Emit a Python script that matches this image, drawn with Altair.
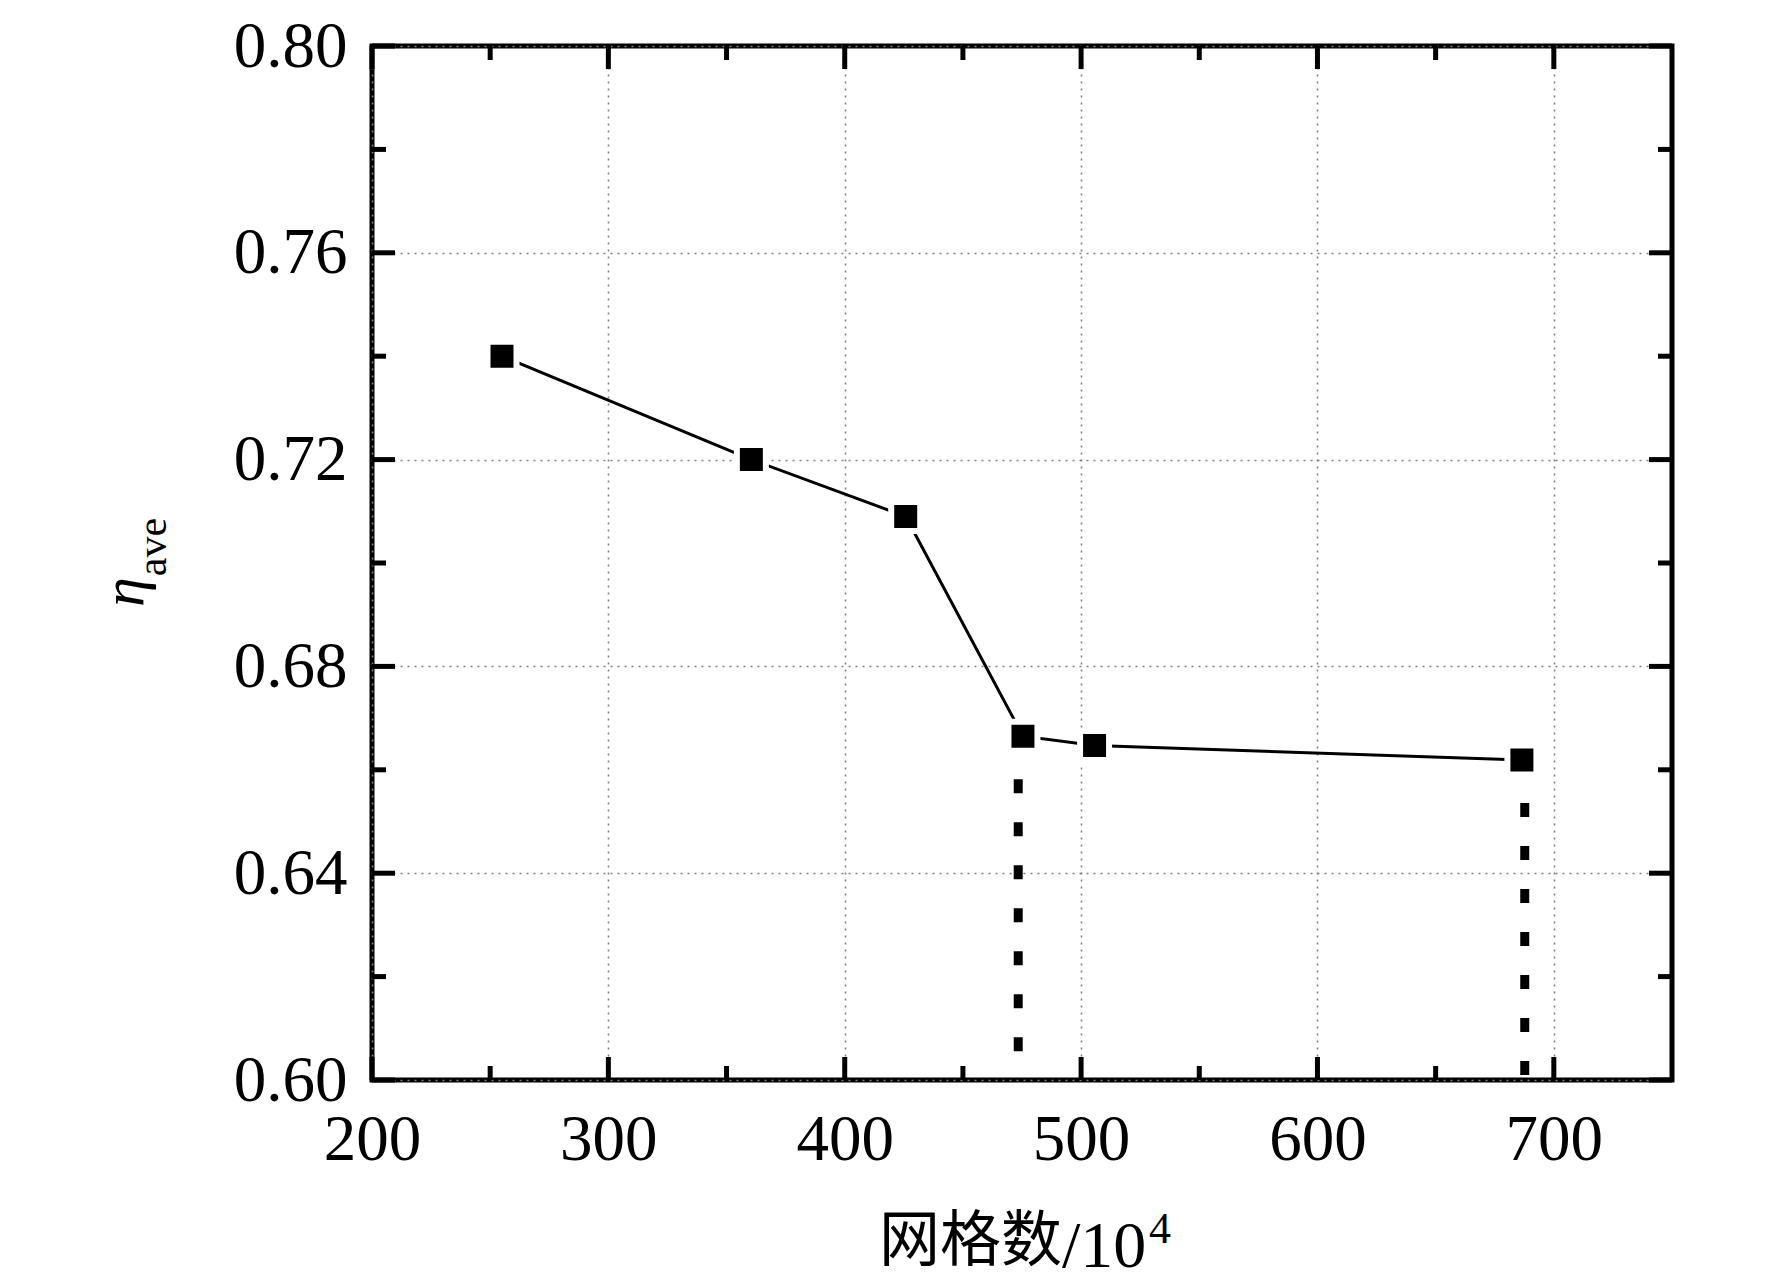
import altair as alt
import pandas as pd

# data
grid_counts = [255, 360.5, 425.8, 475.4, 505.7, 686.5]
eta_ave = [0.740, 0.720, 0.709, 0.6665, 0.6647, 0.6619]
drop_x = [473.4, 687.7]
drop_top = [0.6665, 0.6619]
x_major = [200, 300, 400, 500, 600, 700]
x_minor = [250, 350, 450, 550, 650]
y_major = [0.60, 0.64, 0.68, 0.72, 0.76, 0.80]
y_minor = [0.62, 0.66, 0.70, 0.74, 0.78]

W, H = 1300, 1034
TOP = 38
SERIF = "Liberation Serif"
xs = alt.Scale(domain=[200, 750], nice=False, zero=False)
ys = alt.Scale(domain=[0.60, 0.80], nice=False, zero=False)

df = pd.DataFrame({"x": grid_counts, "y": eta_ave})
drops = pd.DataFrame({"x": drop_x, "y": drop_top, "y0": [0.60] * len(drop_x)})

xaxis = alt.Axis(
    values=x_major, title=None, domain=False, ticks=False,
    labelFont=SERIF, labelFontSize=65, labelColor="black",
    labelPadding=28, grid=True, gridColor="#808080",
    gridDash=[2, 5], gridWidth=1.6, labelFlush=False)
yaxis = alt.Axis(
    values=y_major, format=".2f", title=None, domain=False, ticks=False,
    labelFont=SERIF, labelFontSize=65, labelColor="black",
    labelPadding=25, grid=True, gridColor="#808080",
    gridDash=[2, 5], gridWidth=1.6, labelFlush=False)

drop_lines = alt.Chart(drops).mark_rule(
    color="black", strokeWidth=9, strokeDash=[14, 29]
).encode(
    x=alt.X("x:Q", scale=xs, axis=xaxis),
    y=alt.Y("y:Q", scale=ys, axis=yaxis),
    y2="y0:Q",
)

line = alt.Chart(df).mark_line(color="black", strokeWidth=3).encode(
    x=alt.X("x:Q", scale=xs, axis=xaxis),
    y=alt.Y("y:Q", scale=ys, axis=yaxis),
)

points = alt.Chart(df).mark_point(
    shape="square", filled=True, fill="black", size=841,
    stroke="white", strokeWidth=6, opacity=1
).encode(
    x=alt.X("x:Q", scale=xs, axis=xaxis),
    y=alt.Y("y:Q", scale=ys, axis=yaxis),
)


def xticks(vals, length):
    d = pd.DataFrame({"v": vals})
    bottom = alt.Chart(d).mark_rule(color="black", strokeWidth=5).encode(
        x=alt.X("v:Q", scale=xs, axis=xaxis),
        y=alt.value(H), y2=alt.value(H - length))
    top = alt.Chart(d).mark_rule(color="black", strokeWidth=5).encode(
        x=alt.X("v:Q", scale=xs, axis=xaxis),
        y=alt.value(0), y2=alt.value(length))
    return [bottom, top]


def yticks(vals, length):
    d = pd.DataFrame({"v": vals})
    left = alt.Chart(d).mark_rule(color="black", strokeWidth=5).encode(
        y=alt.Y("v:Q", scale=ys, axis=yaxis),
        x=alt.value(0), x2=alt.value(length))
    right = alt.Chart(d).mark_rule(color="black", strokeWidth=5).encode(
        y=alt.Y("v:Q", scale=ys, axis=yaxis),
        x=alt.value(W), x2=alt.value(W - length))
    return [left, right]


ticks = xticks(x_major, 23) + xticks(x_minor, 14) + yticks(y_major, 23) + yticks(y_minor, 14)

dy = 31 - TOP  # keep outside texts at the same page position

eta = alt.Chart(pd.DataFrame({"t": ["η"]})).mark_text(
    font=SERIF, fontStyle="italic", fontSize=60, angle=270,
    align="center", baseline="alphabetic", color="black"
).encode(text="t:N", x=alt.value(-229), y=alt.value(553 + dy))

ave = alt.Chart(pd.DataFrame({"t": ["ave"]})).mark_text(
    font=SERIF, fontSize=42, angle=270,
    align="center", baseline="alphabetic", color="black"
).encode(text="t:N", x=alt.value(-206), y=alt.value(508 + dy))

title_cjk = alt.Chart(pd.DataFrame({"t": ["网格数"]})).mark_text(
    font="Noto Sans CJK SC", fontSize=61,
    align="right", baseline="alphabetic", color="black"
).encode(text="t:N", x=alt.value(690), y=alt.value(1222 + dy))

title_num = alt.Chart(pd.DataFrame({"t": ["/10"]})).mark_text(
    font=SERIF, fontSize=66,
    align="left", baseline="alphabetic", color="black"
).encode(text="t:N", x=alt.value(690), y=alt.value(1228 + dy))

title_sup = alt.Chart(pd.DataFrame({"t": ["4"]})).mark_text(
    font=SERIF, fontSize=44,
    align="left", baseline="alphabetic", color="black"
).encode(text="t:N", x=alt.value(777), y=alt.value(1204 + dy))

chart = alt.layer(
    drop_lines, line, points, *ticks, eta, ave, title_cjk, title_num, title_sup
).properties(
    width=W, height=H,
    background="white",
    autosize=alt.AutoSizeParams(type="none"),
    padding={"left": 364, "top": TOP, "right": 90, "bottom": 200},
).configure_view(
    stroke="black", strokeWidth=5
)

chart.save("out.html", embed_options={"renderer": "svg", "actions": False})
